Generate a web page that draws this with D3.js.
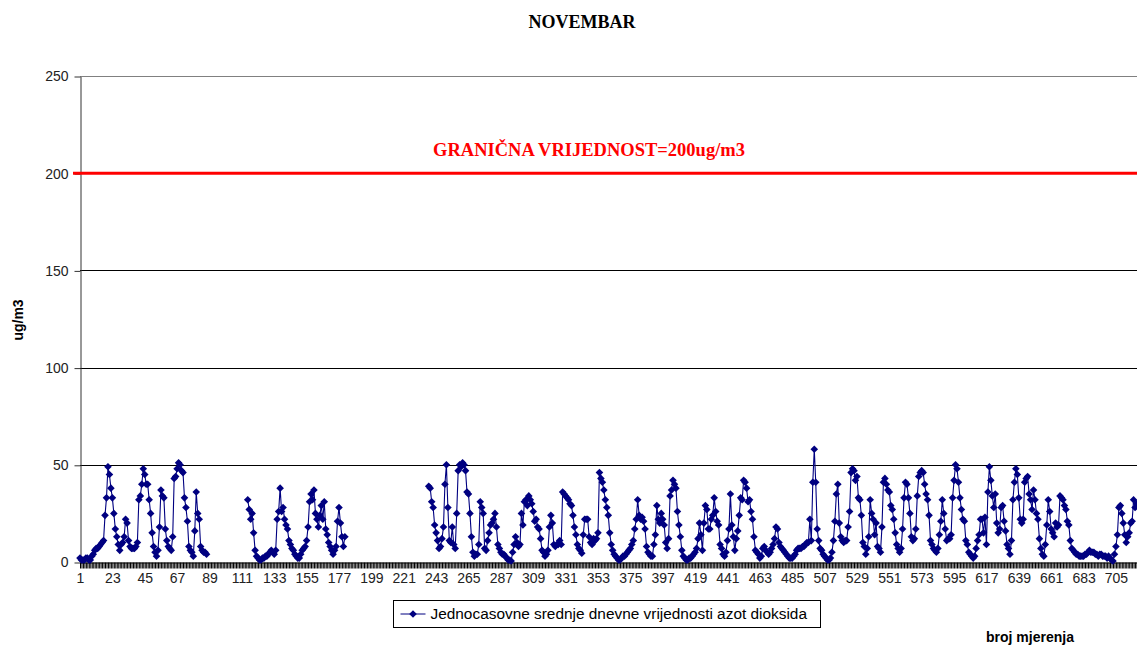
<!DOCTYPE html>
<html>
<head>
<meta charset="utf-8">
<script src="https://cdn.jsdelivr.net/npm/d3@7"></script>
<style>
  body { margin: 0; background: #fff; }
  svg { display: block; font-family: "Liberation Sans", Arial, sans-serif; }
</style>
</head>
<body>
<svg class="chart"></svg>
<script>
// jednocasovne vrijednosti NO2, novembar (720 mjerenja, null = nema podatka)
var vrijednosti = [
  2, 1, 1, 1, 2, 2, 1, 1, 3, 4, 6, 7, 7, 8, 9, 10, 11, 24, 33, 49,
  45, 38, 33, 25, 17, 13, 9, 6, 9, 10, 13, 22, 20, 11, 8, 7, 7, 7, 8, 10,
  32, 34, 40, 48, 45, 40, 40, 32, 25, 15, 8, 5, 3, 6, 18, 37, 34, 33, 17, 11,
  8, 7, 6, 13, 43, 44, 48, 51, 50, 47, 46, 33, 28, 21, 8, 6, 5, 3, 16, 36,
  25, 22, 8, 6, 5, 5, 4, null, null, null, null, null, null, null, null, null, null, null, null, null,
  null, null, null, null, null, null, null, null, null, null, null, null, null, null, 32, 27, 22, 25, 15, 6,
  3, 2, 1, 1, 2, 2, 3, 3, 4, 5, 6, 5, 4, 6, 22, 26, 38, 26, 28, 22,
  19, 17, 11, 9, 7, 6, 4, 3, 2, 2, 4, 6, 7, 8, 11, 18, 31, 35, 32, 37,
  25, 22, 18, 24, 29, 22, 31, 17, 14, 10, 8, 6, 4, 6, 8, 21, 28, 20, 13, 8,
  13, null, null, null, null, null, null, null, null, null, null, null, null, null, null, null, null, null, null, null,
  null, null, null, null, null, null, null, null, null, null, null, null, null, null, null, null, null, null, null, null,
  null, null, null, null, null, null, null, null, null, null, null, null, null, null, null, null, null, 39, 38, 31,
  28, 19, 15, 11, 7, 8, 12, 18, 40, 50, 28, 11, 10, 18, 9, 7, 25, 47, 50, 49,
  51, 50, 47, 36, 35, 25, 13, 5, 3, 4, 4, 9, 31, 28, 25, 7, 6, 11, 15, 19,
  20, 22, 25, 18, 9, 7, 5, 4, 4, 3, 2, 1, 1, 0.5, 5, 9, 13, 10, 8, 9,
  25, 19, 31, 32, 29, 34, 32, 30, 26, 21, 22, 18, 17, 12, 6, 5, 3, 4, 6, 18,
  24, 20, 9, 8, 9, 9, 11, 9, 36, 35, 34, 33, 32, 30, 29, 24, 18, 14, 9, 7,
  6, 4.5, 14, 22, 22, 22, 13, 10, 9, 12, 11, 12, 15, 46, 43, 41, 37, 32, 28, 24,
  15, 9, 6, 4, 3, 2, 1, 1, 2, 3, 3, 4, 5, 6, 7, 9, 11, 17, 22, 32,
  24, 22, 23, 21, 17, 8, 5, 4, 3, 3, 9, 14, 29, 22, 20, 25, 22, 19, 10, 7,
  12, 34, 37, 42, 40, 38, 26, 19, 13, 6, 3, 2, 1, 1, 2, 2, 3, 4, 5, 7,
  12, 20, 14, 6, 20, 29, 27, 17, 17, 22, 24, 33, 26, 21, 19, 9, 7, 4, 3, 5,
  11, 17, 35, 19, 13, 6, 12, 16, 24, 33, 32, 42, 41, 38, 31, 32, 26, 22, 13, 6,
  5, 4, 2, 3, 7, 8, 6, 5, 4, 5, 7, 9, 12, 18, 17, 10, 8, 7, 6, 5,
  4, 3, 2, 2, 2, 3, 4, 6, 7, 7, 7, 8, 8, 9, 10, 10, 22, 11, 41, 58,
  41, 17, 11, 7, 6, 4, 3, 2, 1, 1, 2, 5, 11, 21, 35, 40, 20, 13, 11, 10,
  11, 11, 18, 26, 46, 48, 47, 42, 44, 33, 32, 24, 10, 8, 4, 7, 13, 32, 25, 22,
  14, 20, 8, 7, 5, 18, 41, 43, 40, 37, 36, 29, 27, 22, 15, 9, 7, 5, 7, 17,
  33, 41, 40, 33, 25, 13, 11, 12, 17, 34, 44, 46, 47, 46, 40, 35, 32, 24, 11, 9,
  7, 6, 5, 7, 14, 21, 32, 25, 17, 11, 12, 12, 14, 33, 42, 50, 48, 41, 33, 27,
  22, 21, 11, 9, 5, 4, 3, 2, 3, 7, 11, 14, 22, 22, 15, 23, 9, 36, 49, 42,
  34, 28, 35, 20, 15, 17, 28, 29, 21, 16, 9, 7, 4, 11, 32, 41, 48, 45, 33, 22,
  20, 22, 41, 43, 44, 35, 32, 27, 37, 32, 25, 22, 12, 7, 4, 3, 9, 19, 32, 26,
  17, 15, 13, 20, 18, 19, 34, 33, 32, 29, 27, 21, 19, 11, 7, 6, 5, 4, 4, 3,
  3, 3, 3, 4, 4, 5, 6, 5, 5, 5, 4, 4, 3, 4, 4, 3, 3, 3, 2, 3,
  2, 1, 0.5, 4, 8, 14, 28, 29, 25, 20, 14, 10, 13, 15, 20, 21, 32, 28, 30, 30
];
var mjerenja = d3.range(1, vrijednosti.length + 1);
var xOznake = d3.range(1, 721, 22);          // 1, 23, 45 ... 705
var yOznake = [0, 50, 100, 150, 200, 250];
var granica = 200;
var naslov = 'NOVEMBAR';
var granicaTekst = 'GRANIČNA VRIJEDNOST=200ug/m3';
var serijaNaziv = 'Jednocasovne srednje dnevne vrijednosti azot dioksida';

const W = 1137, H = 647;
const svg = d3.select('svg.chart').attr('width', W).attr('height', H);
svg.append('rect').attr('width', W).attr('height', H).attr('fill', '#fff');

const x = d3.scaleLinear().domain([1, 720]).range([80, 1138]);
const y = d3.scaleLinear().domain([0, 250]).range([562, 76]);

// horizontal grid
svg.append('g').selectAll('line')
  .data(yOznake.filter(d => d > 0 && d !== granica))
  .enter().append('line')
  .attr('x1', x(1)).attr('x2', W)
  .attr('y1', d => Math.round(y(d)) + 0.5).attr('y2', d => Math.round(y(d)) + 0.5)
  .attr('stroke', d => d === 250 ? '#808080' : '#000')
  .attr('stroke-width', 1);

// y axis
const yAxis = svg.append('g')
  .attr('transform', 'translate(80.5,0.5)')
  .call(d3.axisLeft(y).tickValues(yOznake).tickSizeInner(6).tickSizeOuter(0).tickPadding(6));
yAxis.select('.domain').attr('stroke', '#333');
yAxis.selectAll('.tick line').attr('stroke', '#333');
yAxis.selectAll('text').attr('font-size', 14).attr('fill', '#222')
  .attr('font-family', '"Liberation Sans", Arial, sans-serif');

// x axis: a tick at every measurement, a label every 22nd
const xAxis = svg.append('g')
  .attr('transform', 'translate(0,' + (Math.round(y(0)) + 0.5) + ')')
  .call(d3.axisBottom(x).tickValues(mjerenja).tickSizeInner(6).tickSizeOuter(0).tickPadding(5)
    .tickFormat(d => xOznake.indexOf(d) >= 0 ? d : ''));
xAxis.select('.domain').attr('stroke', '#000');
xAxis.selectAll('.tick line').attr('stroke', '#000');
xAxis.selectAll('text').attr('font-size', 14).attr('fill', '#222')
  .attr('font-family', '"Liberation Sans", Arial, sans-serif');

// limit value line
svg.append('line')
  .attr('x1', 73).attr('x2', W)
  .attr('y1', y(granica)).attr('y2', y(granica))
  .attr('stroke', '#ff0000').attr('stroke-width', 3);

svg.append('text')
  .attr('x', 589).attr('y', y(granica) - 17)
  .attr('text-anchor', 'middle')
  .attr('font-family', '"Liberation Serif", "Times New Roman", serif')
  .attr('font-weight', 'bold').attr('font-size', 18.5)
  .attr('fill', '#ff0000')
  .text(granicaTekst);

// series
const line = d3.line()
  .defined(d => d.v !== null)
  .x(d => x(d.i))
  .y(d => y(d.v));
const tacke = mjerenja.map((i, k) => ({i: i, v: vrijednosti[k]}));

const plot = svg.append('g');
plot.append('path')
  .datum(tacke)
  .attr('d', line)
  .attr('fill', 'none')
  .attr('stroke', '#000080')
  .attr('stroke-width', 1.1);

const romb = 'M0,-3.8L3.8,0L0,3.8L-3.8,0Z';
plot.selectAll('path.marker')
  .data(tacke.filter(d => d.v !== null))
  .enter().append('path')
  .attr('class', 'marker')
  .attr('d', romb)
  .attr('transform', d => 'translate(' + x(d.i) + ',' + y(d.v) + ')')
  .attr('fill', '#000080');

// titles
svg.append('text')
  .attr('x', 582).attr('y', 28)
  .attr('text-anchor', 'middle')
  .attr('font-family', '"Liberation Serif", "Times New Roman", serif')
  .attr('font-weight', 'bold').attr('font-size', 18)
  .attr('fill', '#000')
  .text(naslov);

svg.append('text')
  .attr('transform', 'translate(23,320) rotate(-90)')
  .attr('text-anchor', 'middle')
  .attr('font-weight', 'bold').attr('font-size', 14)
  .text('ug/m3');

svg.append('text')
  .attr('x', 1030).attr('y', 642)
  .attr('text-anchor', 'middle')
  .attr('font-weight', 'bold').attr('font-size', 14)
  .text('broj mjerenja');

// legend
const leg = svg.append('g').attr('transform', 'translate(393.5,600.5)');
leg.append('rect')
  .attr('width', 427).attr('height', 27)
  .attr('fill', '#fff').attr('stroke', '#000').attr('stroke-width', 1);
leg.append('line')
  .attr('x1', 7).attr('x2', 32).attr('y1', 13.5).attr('y2', 13.5)
  .attr('stroke', '#000080').attr('stroke-width', 1);
leg.append('path')
  .attr('d', romb)
  .attr('transform', 'translate(19.5,13.5)')
  .attr('fill', '#000080');
leg.append('text')
  .attr('x', 37).attr('y', 13.5)
  .attr('dy', '0.35em')
  .attr('font-size', 15.4)
  .attr('fill', '#000')
  .text(serijaNaziv);
</script>
</body>
</html>
